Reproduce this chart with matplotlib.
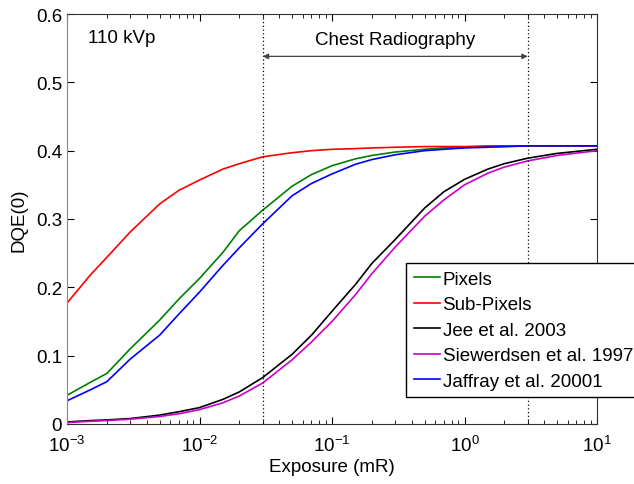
import numpy as np
import matplotlib
matplotlib.use("Agg")
from matplotlib import pyplot as plt
from matplotlib.ticker import FixedLocator, FuncFormatter

plt.rcParams['font.family'] = ['Liberation Sans', 'DejaVu Sans']
plt.rcParams['mathtext.default'] = 'regular'

# exposure (mR) and DQE(0)
exposure = [1e-3, 1.5e-3, 2e-3, 3e-3, 5e-3, 7e-3, 1e-2, 1.5e-2, 2e-2, 3e-2, 5e-2, 7e-2,
            0.1, 0.15, 0.2, 0.3, 0.5, 0.7, 1, 1.5, 2, 3, 5, 10]
pixels = [0.042, 0.061, 0.074, 0.110, 0.152, 0.183, 0.213, 0.251, 0.283, 0.313, 0.348, 0.365,
          0.378, 0.388, 0.393, 0.398, 0.402, 0.404, 0.405, 0.406, 0.406, 0.407, 0.407, 0.407]
sub_pixels = [0.177, 0.218, 0.244, 0.281, 0.322, 0.342, 0.357, 0.373, 0.381, 0.391, 0.397, 0.400,
              0.402, 0.403, 0.404, 0.405, 0.406, 0.406, 0.406, 0.407, 0.407, 0.407, 0.407, 0.407]
jee = [0.003, 0.005, 0.006, 0.008, 0.013, 0.018, 0.024, 0.036, 0.047, 0.068, 0.102, 0.130,
       0.165, 0.204, 0.235, 0.270, 0.316, 0.340, 0.358, 0.373, 0.381, 0.389, 0.396, 0.402]
siewerdsen = [0.002, 0.004, 0.005, 0.007, 0.011, 0.015, 0.021, 0.031, 0.041, 0.060, 0.094, 0.120,
              0.150, 0.189, 0.220, 0.259, 0.304, 0.328, 0.350, 0.367, 0.376, 0.385, 0.393, 0.400]
jaffray = [0.034, 0.050, 0.062, 0.095, 0.130, 0.161, 0.193, 0.232, 0.258, 0.293, 0.334, 0.352,
           0.366, 0.380, 0.387, 0.394, 0.400, 0.402, 0.404, 0.405, 0.406, 0.407, 0.407, 0.407]

series = [pixels, sub_pixels, jee, siewerdsen, jaffray]
labels = ['Pixels', 'Sub-Pixels', 'Jee et al. 2003', 'Siewerdsen et al. 1997', 'Jaffray et al. 20001']
colors = ['#008000', '#ff0000', '#000000', '#cc00cc', '#0000ff']

chest_range = [0.03, 3]
y_ticks = [0, 0.1, 0.2, 0.3, 0.4, 0.5, 0.6]
fs = 13.5

fig = plt.figure(figsize=(6.34, 4.85), dpi=100)
ax = fig.add_axes([67/634, 60/485, 530/634, 410/485])

for y, lab, c in zip(series, labels, colors):
    ax.plot(exposure, y, color=c, lw=1.2, label=lab)

for xv in chest_range:
    ax.axvline(xv, color='k', ls=(0, (1, 2)), lw=0.9)

ax.annotate('', xy=(chest_range[0], 0.538), xytext=(chest_range[1], 0.538),
            arrowprops=dict(arrowstyle='<|-|>', color='#444444', lw=0.9,
                            mutation_scale=8, shrinkA=0, shrinkB=0))
ax.text(0.3, 0.562, 'Chest Radiography', ha='center', va='center', fontsize=fs)
ax.text(0.04, 0.943, '110 kVp', transform=ax.transAxes, ha='left', va='center', fontsize=fs)

ax.set_xscale('log')
ax.set_xlim(1e-3, 10)
ax.set_ylim(0, 0.6)
ax.yaxis.set_major_locator(FixedLocator(y_ticks))
ax.yaxis.set_major_formatter(FuncFormatter(lambda v, p: '0' if v == 0 else '%g' % v))
ax.tick_params(which='both', direction='in', top=True, right=True, labelsize=fs)
ax.tick_params(which='major', length=5)
ax.tick_params(which='minor', length=3)
ax.tick_params(axis='x', pad=8)
ax.set_xlabel('Exposure (mR)', fontsize=fs, labelpad=2)
ax.set_ylabel('DQE(0)', fontsize=fs, labelpad=6)
for side in ['top', 'right', 'bottom']:
    ax.spines[side].set_color('#333333')
ax.spines['left'].set_color('#888888')

leg = ax.legend(loc='upper left', bbox_to_anchor=(406/634, 1 - 264/485),
                bbox_transform=fig.transFigure, borderaxespad=0, fontsize=fs,
                fancybox=False, framealpha=1, edgecolor='k', handlelength=1.4,
                handletextpad=0.15, labelspacing=0.45, borderpad=0.4)
leg.get_frame().set_linewidth(1.0)

fig.savefig('out.png', dpi=100)
